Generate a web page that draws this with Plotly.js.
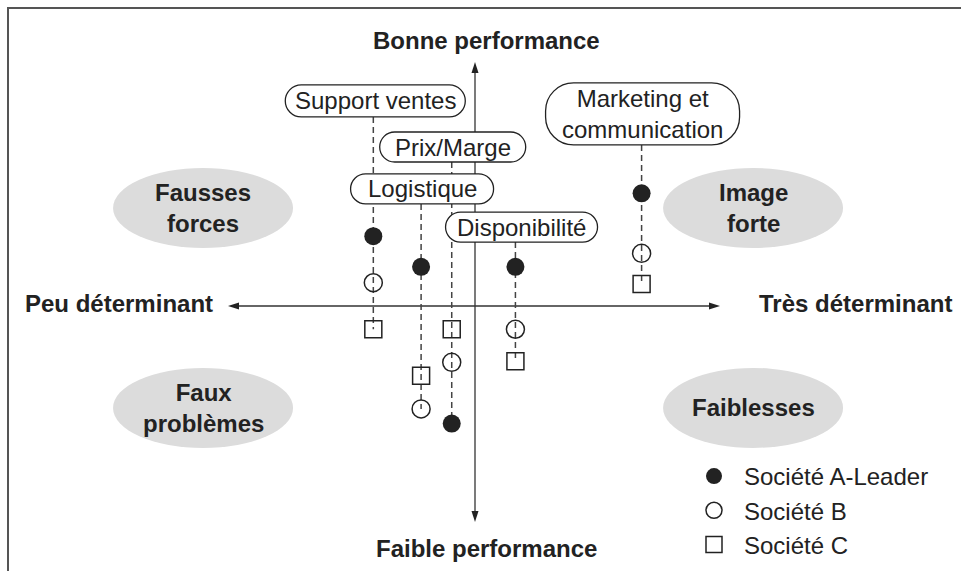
<!DOCTYPE html>
<html>
<head>
<meta charset="utf-8">
<script src="https://cdn.plot.ly/plotly-3.0.1.min.js"></script>
<style>
  body { margin: 0; background: #fff; }
  #chart { width: 961px; height: 571px; }
</style>
</head>
<body>
<div id="chart"></div>
<script>
// criteria and their position on the "déterminant" axis
const categories = ['Support ventes', 'Logistique', 'Prix/Marge', 'Disponibilité', 'Marketing et<br>communication'];
const determinance = [-4.15, -2.2, -0.95, 1.65, 6.8];

// performance of each company per criterion
const perfA = [2.85, 1.6, -4.8, 1.6, 4.6];
const perfB = [0.95, -4.2, -2.3, -0.95, 2.15];
const perfC = [-0.95, -2.85, -0.95, -2.25, 0.9];
const companies = ['Société A-Leader', 'Société B', 'Société C'];

// quadrants
const quadrants = ['Fausses<br>forces', 'Image<br>forte', 'Faux<br>problèmes', 'Faiblesses'];
const quadX = [-11.1, 11.35, -11.1, 11.35];
const quadY = [4.0, 4.0, -4.16, -4.16];

// axis ends
const axisLabels = ['Bonne performance', 'Faible performance', 'Peu déterminant', 'Très déterminant'];

// label boxes (px sizes, data position)
const labelY = [8.37, 4.78, 6.49, 3.22, 7.84];
const labelDx = [0.08, 0.04, 0.04, 0.25, 0.04];
const labelW = [180, 143, 146, 152, 194];
const labelH = [32, 30, 30, 30, 62];

const PPU = 24.5;           // pixels per unit
const W = 961, H = 571;
const OX = 475, OY = 306;   // origin in pixels
const FONT = '"Liberation Sans", Arial, Helvetica, sans-serif';
const INK = '#222';

function u(px) { return px / PPU; }

function pill(cx, cy, w, h, r) {
    const hw = w / 2, hh = h / 2, k = 0.5523 * r;
    const pts = [
        ['M', [-hw + r, hh]],
        ['L', [hw - r, hh]],
        ['C', [hw - r + k, hh], [hw, hh - r + k], [hw, hh - r]],
        ['L', [hw, -hh + r]],
        ['C', [hw, -hh + r - k], [hw - r + k, -hh], [hw - r, -hh]],
        ['L', [-hw + r, -hh]],
        ['C', [-hw + r - k, -hh], [-hw, -hh + r - k], [-hw, -hh + r]],
        ['L', [-hw, hh - r]],
        ['C', [-hw, hh - r + k], [-hw + r - k, hh], [-hw + r, hh]]
    ];
    return pts.map(function(p) {
        return p[0] + p.slice(1).map(function(q) {
            return (cx + u(q[0])).toFixed(4) + ',' + (cy + u(q[1])).toFixed(4);
        }).join(' ');
    }).join(' ') + ' Z';
}

function tri(tipX, tipY, dir) {
    // slender arrow head, 11px long, 7px wide
    const L = u(11), Wd = u(3.5);
    let p;
    if (dir === 'up') p = [[tipX, tipY], [tipX - Wd, tipY - L], [tipX + Wd, tipY - L]];
    if (dir === 'down') p = [[tipX, tipY], [tipX - Wd, tipY + L], [tipX + Wd, tipY + L]];
    if (dir === 'right') p = [[tipX, tipY], [tipX - L, tipY - Wd], [tipX - L, tipY + Wd]];
    if (dir === 'left') p = [[tipX, tipY], [tipX + L, tipY - Wd], [tipX + L, tipY + Wd]];
    return 'M' + p.map(function(q) { return q[0].toFixed(4) + ',' + q[1].toFixed(4); }).join(' L') + ' Z';
}

const xTop = u(OY - 62), yBottom = -u(522 - OY);
const xLeft = -u(OX - 228), xRight = u(720 - OX);

const shapes = [];

// frame
shapes.push({type: 'rect', xref: 'paper', yref: 'paper', x0: 8 / W, x1: 1.05, y0: -0.05, y1: 1 - 8 / H,
    line: {color: '#555', width: 2}, layer: 'below'});

// grey ellipses
quadX.forEach(function(x, i) {
    shapes.push({type: 'circle', xref: 'x', yref: 'y', x0: x - u(90), x1: x + u(90), y0: quadY[i] - u(40), y1: quadY[i] + u(40),
        fillcolor: '#dcdcdc', line: {width: 0}, layer: 'below'});
});

// axes
shapes.push({type: 'line', x0: 0, x1: 0, y0: yBottom + u(6), y1: xTop - u(6), line: {color: '#333', width: 1.3}, layer: 'below'});
shapes.push({type: 'line', x0: xLeft + u(6), x1: xRight - u(6), y0: 0, y1: 0, line: {color: '#333', width: 1.3}, layer: 'below'});
shapes.push({type: 'path', path: tri(0, xTop, 'up'), fillcolor: INK, line: {width: 0}, layer: 'below'});
shapes.push({type: 'path', path: tri(0, yBottom, 'down'), fillcolor: INK, line: {width: 0}, layer: 'below'});
shapes.push({type: 'path', path: tri(xRight, 0, 'right'), fillcolor: INK, line: {width: 0}, layer: 'below'});
shapes.push({type: 'path', path: tri(xLeft, 0, 'left'), fillcolor: INK, line: {width: 0}, layer: 'below'});

// dashed drop lines, then label boxes on top
determinance.forEach(function(x, i) {
    const low = Math.min(perfA[i], perfB[i], perfC[i]);
    shapes.push({type: 'line', x0: x, x1: x, y0: labelY[i] - u(labelH[i] / 2), y1: low,
        line: {color: '#444', width: 1.5, dash: '6px,4px'}, layer: 'below'});
});
determinance.forEach(function(x, i) {
    const r = Math.min(labelH[i] / 2, 28);
    shapes.push({type: 'path', path: pill(x + labelDx[i], labelY[i], labelW[i], labelH[i], r),
        fillcolor: '#fff', line: {color: INK, width: 1.3}, layer: 'above'});
});

const annotations = [];
categories.forEach(function(c, i) {
    annotations.push({x: determinance[i] + labelDx[i], y: labelY[i], text: c, showarrow: false,
        font: {family: FONT, size: 24, color: INK}});
});
quadrants.forEach(function(q, i) {
    annotations.push({x: quadX[i], y: quadY[i], text: '<b>' + q + '</b>', showarrow: false,
        font: {family: FONT, size: 24, color: INK}});
});
annotations.push({x: u(11), y: u(OY - 40), text: '<b>' + axisLabels[0] + '</b>', showarrow: false,
    font: {family: FONT, size: 24, color: INK}});
annotations.push({x: u(11), y: -u(548 - OY), text: '<b>' + axisLabels[1] + '</b>', showarrow: false,
    font: {family: FONT, size: 24, color: INK}});
annotations.push({x: -u(OX - 215), y: u(3), xanchor: 'right', text: '<b>' + axisLabels[2] + '</b>', showarrow: false,
    font: {family: FONT, size: 24, color: INK}});
annotations.push({x: u(757 - OX), y: u(3), xanchor: 'left', text: '<b>' + axisLabels[3] + '</b>', showarrow: false,
    font: {family: FONT, size: 24, color: INK}});

const traces = [
    {x: determinance, y: perfA, name: companies[0], mode: 'markers', type: 'scatter',
        marker: {symbol: 'circle', size: 18, color: INK}},
    {x: determinance, y: perfB, name: companies[1], mode: 'markers', type: 'scatter',
        marker: {symbol: 'circle-open', size: 18, color: INK, line: {width: 1.5}}},
    {x: determinance, y: perfC, name: companies[2], mode: 'markers', type: 'scatter',
        marker: {symbol: 'square-open', size: 17, color: INK, line: {width: 1.5}}}
];

const layout = {
    width: W, height: H,
    margin: {l: 0, r: 0, t: 0, b: 0, autoexpand: false},
    paper_bgcolor: '#fff', plot_bgcolor: 'rgba(0,0,0,0)',
    xaxis: {range: [-u(OX), u(W - OX)], visible: false, fixedrange: true},
    yaxis: {range: [-u(H - OY), u(OY)], visible: false, fixedrange: true},
    showlegend: true,
    legend: {x: 684 / W, y: 1 - 454 / H, xanchor: 'left', yanchor: 'top', bgcolor: 'rgba(0,0,0,0)',
        font: {family: FONT, size: 24, color: INK}, itemwidth: 50},
    shapes: shapes,
    annotations: annotations,
    hovermode: false
};

Plotly.newPlot('chart', traces, layout, {displayModeBar: false, staticPlot: true});
</script>
</body>
</html>
